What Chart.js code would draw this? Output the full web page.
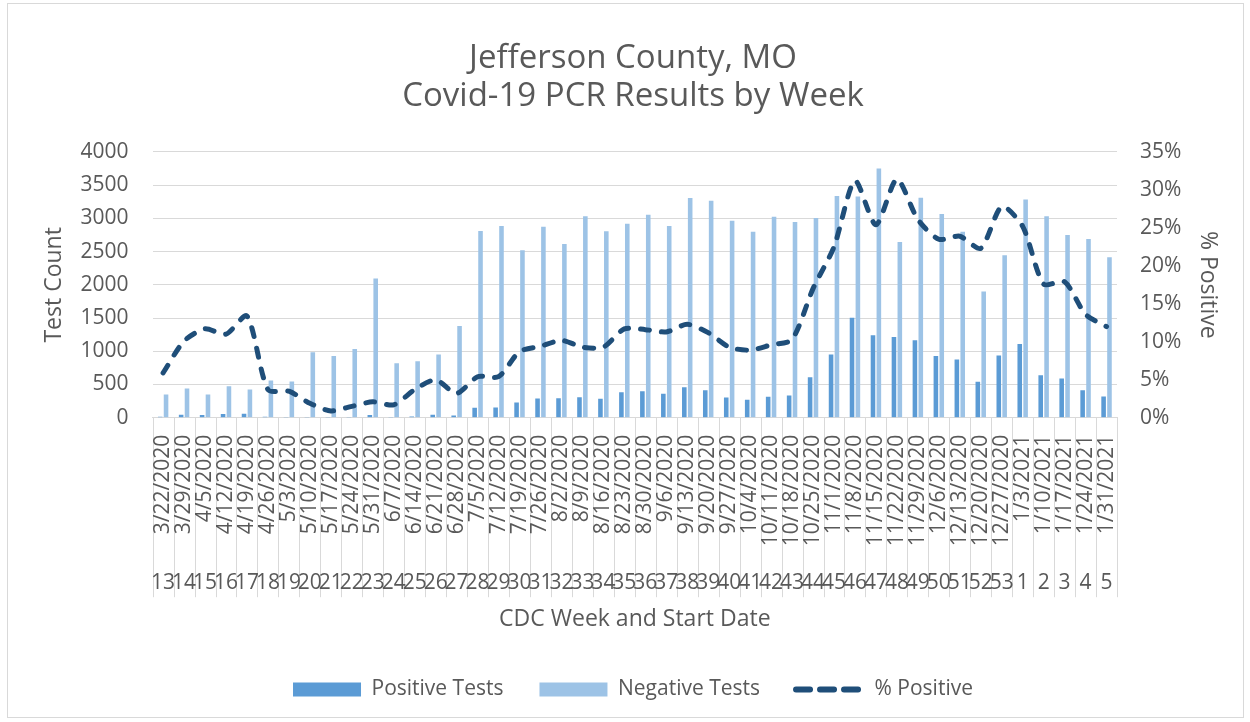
<!DOCTYPE html>
<html>
<head>
<meta charset="utf-8">
<script src="https://cdn.jsdelivr.net/npm/chart.js@4"></script>
<style>
    body { margin: 0; background: #ffffff; }
    canvas { display: block; }
</style>
</head>
<body>
<canvas id="covidChart" width="1250" height="722"></canvas>
<script>
const startDates = [
    '3/22/2020', '3/29/2020', '4/5/2020', '4/12/2020', '4/19/2020', '4/26/2020',
    '5/3/2020', '5/10/2020', '5/17/2020', '5/24/2020', '5/31/2020', '6/7/2020',
    '6/14/2020', '6/21/2020', '6/28/2020', '7/5/2020', '7/12/2020', '7/19/2020',
    '7/26/2020', '8/2/2020', '8/9/2020', '8/16/2020', '8/23/2020', '8/30/2020',
    '9/6/2020', '9/13/2020', '9/20/2020', '9/27/2020', '10/4/2020', '10/11/2020',
    '10/18/2020', '10/25/2020', '11/1/2020', '11/8/2020', '11/15/2020', '11/22/2020',
    '11/29/2020', '12/6/2020', '12/13/2020', '12/20/2020', '12/27/2020', '1/3/2021',
    '1/10/2021', '1/17/2021', '1/24/2021', '1/31/2021'
];

const cdcWeeks = [
    '13', '14', '15', '16', '17', '18', '19', '20', '21', '22', '23', '24',
    '25', '26', '27', '28', '29', '30', '31', '32', '33', '34', '35', '36',
    '37', '38', '39', '40', '41', '42', '43', '44', '45', '46', '47', '48',
    '49', '50', '51', '52', '53', '1', '2', '3', '4', '5'
];

const positiveTests = [
    15, 45, 40, 55, 60, 15, 10, 10, 3, 5, 40, 5,
    20, 45, 35, 150, 155, 230, 290, 295, 310, 285, 385, 400,
    360, 460, 415, 305, 270, 315, 335, 610, 950, 1505, 1240, 1215,
    1165, 930, 875, 540, 935, 1110, 640, 590, 415, 320
];

const negativeTests = [
    350, 440, 350, 475, 425, 560, 545, 985, 930, 1035, 2095, 820,
    850, 950, 1380, 2810, 2885, 2520, 2875, 2615, 3030, 2805, 2920, 3055,
    2885, 3305, 3265, 2965, 2800, 3025, 2945, 3005, 3335, 3330, 3750, 2645,
    3310, 3065, 2800, 1900, 2445, 3285, 3030, 2750, 2690, 2415
];

const percentPositive = [
    5.9, 10.1, 11.7, 11.0, 13.4, 3.7, 3.5, 1.9, 0.9, 1.5, 2.1, 1.7,
    3.7, 5.0, 3.2, 5.4, 5.4, 8.7, 9.4, 10.2, 9.3, 9.3, 11.7, 11.6,
    11.3, 12.3, 11.2, 9.3, 8.9, 9.6, 10.3, 17.0, 22.5, 31.2, 25.4, 31.4,
    26.1, 23.5, 23.9, 22.3, 27.8, 25.2, 17.6, 17.9, 13.6, 12.0
];

const textColor = '#595959';
const gridColor = '#d9d9d9';
const lineColor = '#1f4e79';

Chart.defaults.font.family = "'Open Sans', sans-serif";
Chart.defaults.color = textColor;

// frame round the chart and the category dividers under the two label rows
const frameAndDividers = {
    id: 'frameAndDividers',
    beforeDraw(chart) {
        const ctx = chart.ctx;
        const x = chart.scales.x;
        const x2 = chart.scales.x2;
        ctx.save();
        ctx.strokeStyle = gridColor;
        ctx.lineWidth = 1;
        ctx.strokeRect(7.5, 3.5, 1236, 714);

        const yEnd = x2.top + x2.options.ticks.padding + 27;
        const half = (x.getPixelForValue(1) - x.getPixelForValue(0)) / 2;
        ctx.beginPath();
        for (let i = 0; i <= startDates.length; i++) {
            const px = Math.round(x.getPixelForValue(i) - half) + 0.5;
            ctx.moveTo(px, chart.chartArea.bottom);
            ctx.lineTo(px, yEnd);
        }
        ctx.stroke();
        ctx.restore();
    }
};

function legendLabels(chart) {
    const items = Chart.defaults.plugins.legend.labels.generateLabels(chart);
    items.forEach(item => {
        if (item.datasetIndex === 2) {
            item.strokeStyle = lineColor;
            item.lineWidth = 6;
            item.lineCap = 'round';
            item.lineDash = [14, 10];
        } else {
            item.lineWidth = 0;
        }
    });
    return items;
}

const ctx = document.querySelector('#covidChart').getContext('2d');

new Chart(ctx, {
    type: 'bar',
    data: {
        labels: startDates,
        datasets: [{
            label: 'Positive Tests',
            data: positiveTests,
            backgroundColor: '#5b9bd5',
            pointStyle: 'rect',
            yAxisID: 'y',
            categoryPercentage: 0.56,
            barPercentage: 0.78
        }, {
            label: 'Negative Tests',
            data: negativeTests,
            backgroundColor: '#9dc3e6',
            pointStyle: 'rect',
            yAxisID: 'y',
            categoryPercentage: 0.56,
            barPercentage: 0.78
        }, {
            type: 'line',
            label: '% Positive',
            data: percentPositive,
            yAxisID: 'y1',
            order: -1,
            borderColor: lineColor,
            backgroundColor: lineColor,
            borderWidth: 5,
            borderDash: [9, 12],
            borderCapStyle: 'round',
            borderJoinStyle: 'round',
            pointRadius: 0,
            pointStyle: 'line',
            tension: 0.25,
            fill: false
        }]
    },
    options: {
        responsive: false,
        animation: false,
        layout: {
            padding: { left: 26, right: 10, top: 0, bottom: 12 }
        },
        plugins: {
            title: {
                display: true,
                text: ['Jefferson County, MO', 'Covid-19 PCR Results by Week'],
                color: textColor,
                font: { size: 33, weight: 'normal', lineHeight: 1.15 },
                padding: { top: 40, bottom: 36 }
            },
            legend: {
                position: 'bottom',
                labels: {
                    usePointStyle: true,
                    pointStyleWidth: 68,
                    boxHeight: 14,
                    padding: 36,
                    color: textColor,
                    font: { size: 21 },
                    generateLabels: legendLabels,
                    sort: (a, b) => a.datasetIndex - b.datasetIndex
                }
            },
            tooltip: { enabled: false }
        },
        scales: {
            x: {
                type: 'category',
                position: 'bottom',
                weight: 0,
                offset: true,
                grid: { display: false, drawTicks: false },
                border: { display: true, color: gridColor },
                ticks: {
                    autoSkip: false,
                    minRotation: 90,
                    maxRotation: 90,
                    padding: 17,
                    font: { size: 21 }
                }
            },
            x2: {
                type: 'category',
                position: 'bottom',
                weight: 1,
                labels: cdcWeeks,
                offset: true,
                grid: { display: false, drawTicks: false },
                border: { display: false },
                ticks: {
                    autoSkip: false,
                    maxRotation: 0,
                    minRotation: 0,
                    padding: 7,
                    font: { size: 21 }
                },
                title: {
                    display: true,
                    text: 'CDC Week and Start Date',
                    font: { size: 23 },
                    padding: { top: 3, bottom: 10 }
                }
            },
            y: {
                position: 'left',
                min: 0,
                max: 4000,
                ticks: {
                    stepSize: 500,
                    padding: 12,
                    font: { size: 21 },
                    callback: v => String(v)
                },
                grid: { color: gridColor, drawTicks: true, tickLength: 12, tickColor: 'transparent' },
                border: { display: false },
                title: {
                    display: true,
                    text: 'Test Count',
                    font: { size: 23 },
                    padding: { top: 15, bottom: 0 }
                }
            },
            y1: {
                position: 'right',
                min: 0,
                max: 35,
                ticks: {
                    stepSize: 5,
                    padding: 12,
                    font: { size: 21 },
                    callback: v => v + '%'
                },
                grid: { drawOnChartArea: false, drawTicks: true, tickLength: 11, tickColor: 'transparent' },
                border: { display: false },
                title: {
                    display: true,
                    text: '% Positive',
                    font: { size: 23 },
                    padding: { top: 19, bottom: 0 }
                }
            }
        }
    },
    plugins: [frameAndDividers]
});
</script>
</body>
</html>
